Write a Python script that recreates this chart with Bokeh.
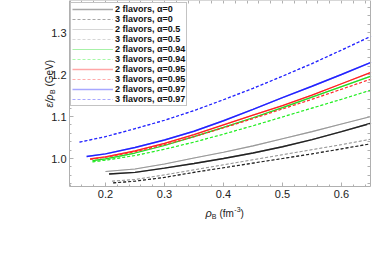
from bokeh.plotting import figure
from bokeh.models import Range1d, Legend, LegendItem, FixedTicker, ColumnDataSource, LinearAxis, Label
from bokeh.embed import file_html
from bokeh.resources import INLINE
import math

# ---- data ----
x_2f_a0 = [0.206, 0.25, 0.3, 0.35, 0.4, 0.45, 0.5, 0.55, 0.6, 0.65]
y_2f_a0 = [0.963, 0.967, 0.977, 0.988, 1.000, 1.013, 1.028, 1.045, 1.064, 1.084]

x_3f_a0 = [0.213, 0.25, 0.3, 0.35, 0.4, 0.45, 0.5, 0.55, 0.6, 0.65]
y_3f_a0 = [0.942, 0.946, 0.955, 0.967, 0.978, 0.989, 1.000, 1.011, 1.023, 1.035]

x_2f_a05 = [0.2, 0.25, 0.3, 0.35, 0.4, 0.45, 0.5, 0.55, 0.6, 0.65]
y_2f_a05 = [0.969, 0.975, 0.987, 1.001, 1.015, 1.030, 1.047, 1.064, 1.082, 1.100]

x_3f_a05 = [0.211, 0.25, 0.3, 0.35, 0.4, 0.45, 0.5, 0.55, 0.6, 0.65]
y_3f_a05 = [0.946, 0.950, 0.961, 0.973, 0.985, 0.997, 1.009, 1.021, 1.033, 1.046]

x_2f_a094 = [0.178, 0.2, 0.25, 0.3, 0.35, 0.4, 0.45, 0.5, 0.55, 0.6, 0.65]
y_2f_a094 = [0.995, 0.999, 1.013, 1.031, 1.052, 1.074, 1.097, 1.121, 1.146, 1.171, 1.196]

x_3f_a094 = [0.178, 0.2, 0.25, 0.3, 0.35, 0.4, 0.45, 0.5, 0.55, 0.6, 0.65]
y_3f_a094 = [0.992, 0.996, 1.007, 1.022, 1.039, 1.058, 1.078, 1.099, 1.120, 1.141, 1.163]

x_2f_a095 = [0.174, 0.2, 0.25, 0.3, 0.35, 0.4, 0.45, 0.5, 0.55, 0.6, 0.65]
y_2f_a095 = [0.999, 1.004, 1.018, 1.036, 1.057, 1.080, 1.103, 1.126, 1.151, 1.178, 1.205]

x_3f_a095 = [0.174, 0.2, 0.25, 0.3, 0.35, 0.4, 0.45, 0.5, 0.55, 0.6, 0.65]
y_3f_a095 = [0.998, 1.003, 1.016, 1.033, 1.052, 1.073, 1.095, 1.118, 1.141, 1.165, 1.189]

x_2f_a097 = [0.168, 0.2, 0.25, 0.3, 0.35, 0.4, 0.45, 0.5, 0.55, 0.6, 0.65]
y_2f_a097 = [1.005, 1.011, 1.026, 1.044, 1.065, 1.090, 1.117, 1.145, 1.172, 1.200, 1.229]

x_3f_a097 = [0.156, 0.2, 0.25, 0.3, 0.35, 0.4, 0.45, 0.5, 0.55, 0.6, 0.65]
y_3f_a097 = [1.039, 1.052, 1.071, 1.091, 1.114, 1.140, 1.167, 1.196, 1.226, 1.258, 1.291]

legend_labels = ["2 flavors, \u03b1=0", "3 flavors, \u03b1=0",
                 "2 flavors, \u03b1=0.5", "3 flavors, \u03b1=0.5",
                 "2 flavors, \u03b1=0.94", "3 flavors, \u03b1=0.94",
                 "2 flavors, \u03b1=0.95", "3 flavors, \u03b1=0.95",
                 "2 flavors, \u03b1=0.97", "3 flavors, \u03b1=0.97"]

x_ticks = [0.2, 0.3, 0.4, 0.5, 0.6]
y_ticks = [1.0, 1.1, 1.2, 1.3]
x_minor = [round(0.14 + 0.02 * i, 2) for i in range(26)]
y_minor = [round(0.94 + 0.02 * i, 2) for i in range(22)]

# ---- styles ----
series = [
    (x_2f_a0, y_2f_a0, "#222222", 1.4, "solid"),
    (x_3f_a0, y_3f_a0, "#222222", 1.1, "3 2"),
    (x_2f_a05, y_2f_a05, "#999999", 1.1, "solid"),
    (x_3f_a05, y_3f_a05, "#999999", 1.0, "3 2"),
    (x_2f_a094, y_2f_a094, "#22dd22", 1.2, "solid"),
    (x_3f_a094, y_3f_a094, "#22ee22", 1.1, "3 2"),
    (x_2f_a095, y_2f_a095, "#ff2020", 1.3, "solid"),
    (x_3f_a095, y_3f_a095, "#ff3030", 1.1, "3 2"),
    (x_2f_a097, y_2f_a097, "#2222ff", 1.5, "solid"),
    (x_3f_a097, y_3f_a097, "#2222ff", 1.2, "3 2"),
]

# pixel <-> data mapping of the reference (x: 590 px per unit, y: 420 px per unit)
def px2x(px):
    return 0.2 + (px - 105) / 590.0

def py2y(py):
    return 1.0 + (158 - py) / 420.0

W, H = 390, 256
# plot box of the reference
BX0, BX1 = px2x(69), px2x(370)
BY0, BY1 = py2y(186), py2y(0)

p = figure(width=W, height=H, frame_width=W, frame_height=H,
           x_range=Range1d(px2x(0), px2x(W)), y_range=Range1d(py2y(H), py2y(0)),
           output_backend="svg", toolbar_location=None,
           min_border_left=0, min_border_right=0, min_border_top=0,
           min_border_bottom=0, x_axis_type=None, y_axis_type=None)
p.background_fill_color = "white"
p.border_fill_color = "white"
p.outline_line_color = None
p.grid.visible = False

frame_col = "#b0b0b0"

def style_axis(ax):
    ax.axis_line_color = frame_col
    ax.major_tick_line_color = frame_col
    ax.minor_tick_line_color = frame_col
    ax.major_tick_in = 4
    ax.major_tick_out = 0
    ax.minor_tick_in = 2
    ax.minor_tick_out = 0
    ax.major_label_text_font = "Liberation Sans"
    ax.major_label_text_font_size = "11px"
    ax.major_label_text_color = "#222222"
    ax.major_label_standoff = 3

xb = LinearAxis(ticker=FixedTicker(ticks=x_ticks, minor_ticks=x_minor),
                fixed_location=BY0, bounds=(BX0, BX1))
xb.major_label_overrides = {t: "%.1f" % t for t in x_ticks}
style_axis(xb)
p.add_layout(xb, "below")

yl = LinearAxis(ticker=FixedTicker(ticks=y_ticks, minor_ticks=y_minor),
                fixed_location=BX0, bounds=(BY0, BY1))
yl.major_label_overrides = {t: "%.1f" % t for t in y_ticks}
style_axis(yl)
p.add_layout(yl, "left")

# top and right frame sides: tick marks only
xt = LinearAxis(ticker=FixedTicker(ticks=[], minor_ticks=sorted(set(x_ticks + x_minor))),
                fixed_location=BY1, bounds=(BX0, BX1))
yr = LinearAxis(ticker=FixedTicker(ticks=[], minor_ticks=sorted(set(y_ticks + y_minor))),
                fixed_location=BX1, bounds=(BY0, BY1))
for ax, loc in ((xt, "above"), (yr, "right")):
    ax.axis_line_color = frame_col
    ax.minor_tick_line_color = frame_col
    ax.major_tick_line_color = None
    ax.minor_tick_in = 3
    ax.minor_tick_out = 0
    ax.major_tick_in = 0
    ax.major_tick_out = 0
    ax.major_label_standoff = 0
    p.add_layout(ax, loc)

# actual curves, plus a faded copy on the same data that gives the legend its pale look
items = []
for (xs, ys, col, w, dash), lab in zip(series, legend_labels):
    src = ColumnDataSource(data=dict(x=xs, y=ys))
    p.line("x", "y", source=src, line_color=col, line_width=w, line_dash=dash)
    r = p.line("x", "y", source=src, line_color=col, line_width=w, line_dash=dash, line_alpha=0.4)
    items.append(LegendItem(label=lab, renderers=[r]))

legend = Legend(items=items, location=(70, H - 4 - 102), margin=0, padding=1,
                glyph_width=41, glyph_height=10, label_height=10, spacing=0,
                label_standoff=2, label_text_font="Liberation Sans",
                label_text_font_size="9px", label_text_font_style="bold",
                label_text_color="#111111", label_text_align="left",
                border_line_color="#888888", border_line_width=1,
                background_fill_color="white", background_fill_alpha=1.0)
p.add_layout(legend, "center")

# axis titles, built from pieces so that B is a subscript and -3 a superscript
pieces = [
    (205.0, 212.5, "\u03c1", "11px", "italic", 0.0),
    (211.3, 215.5, "B", "7px", "normal", 0.0),
    (219.0, 212.5, "(fm", "10px", "normal", 0.0),
    (233.8, 208.5, "-3", "7px", "normal", 0.0),
    (240.0, 212.5, ")", "10px", "normal", 0.0),
    (49.0, 107.0, "\u03b5/\u03c1", "10px", "italic", math.pi / 2),
    (51.8, 93.5, "B", "7px", "normal", math.pi / 2),
    (49.0, 86.0, "(GeV)", "10px", "normal", math.pi / 2),
]
for px, py, txt, size, style, ang in pieces:
    p.add_layout(Label(x=px2x(px), y=py2y(py), text=txt, angle=ang,
                       text_font="Liberation Sans", text_font_size=size,
                       text_font_style=style, text_color="#222222",
                       text_align="left", text_baseline="middle"))

open("out.html", "w").write(file_html(p, INLINE))
